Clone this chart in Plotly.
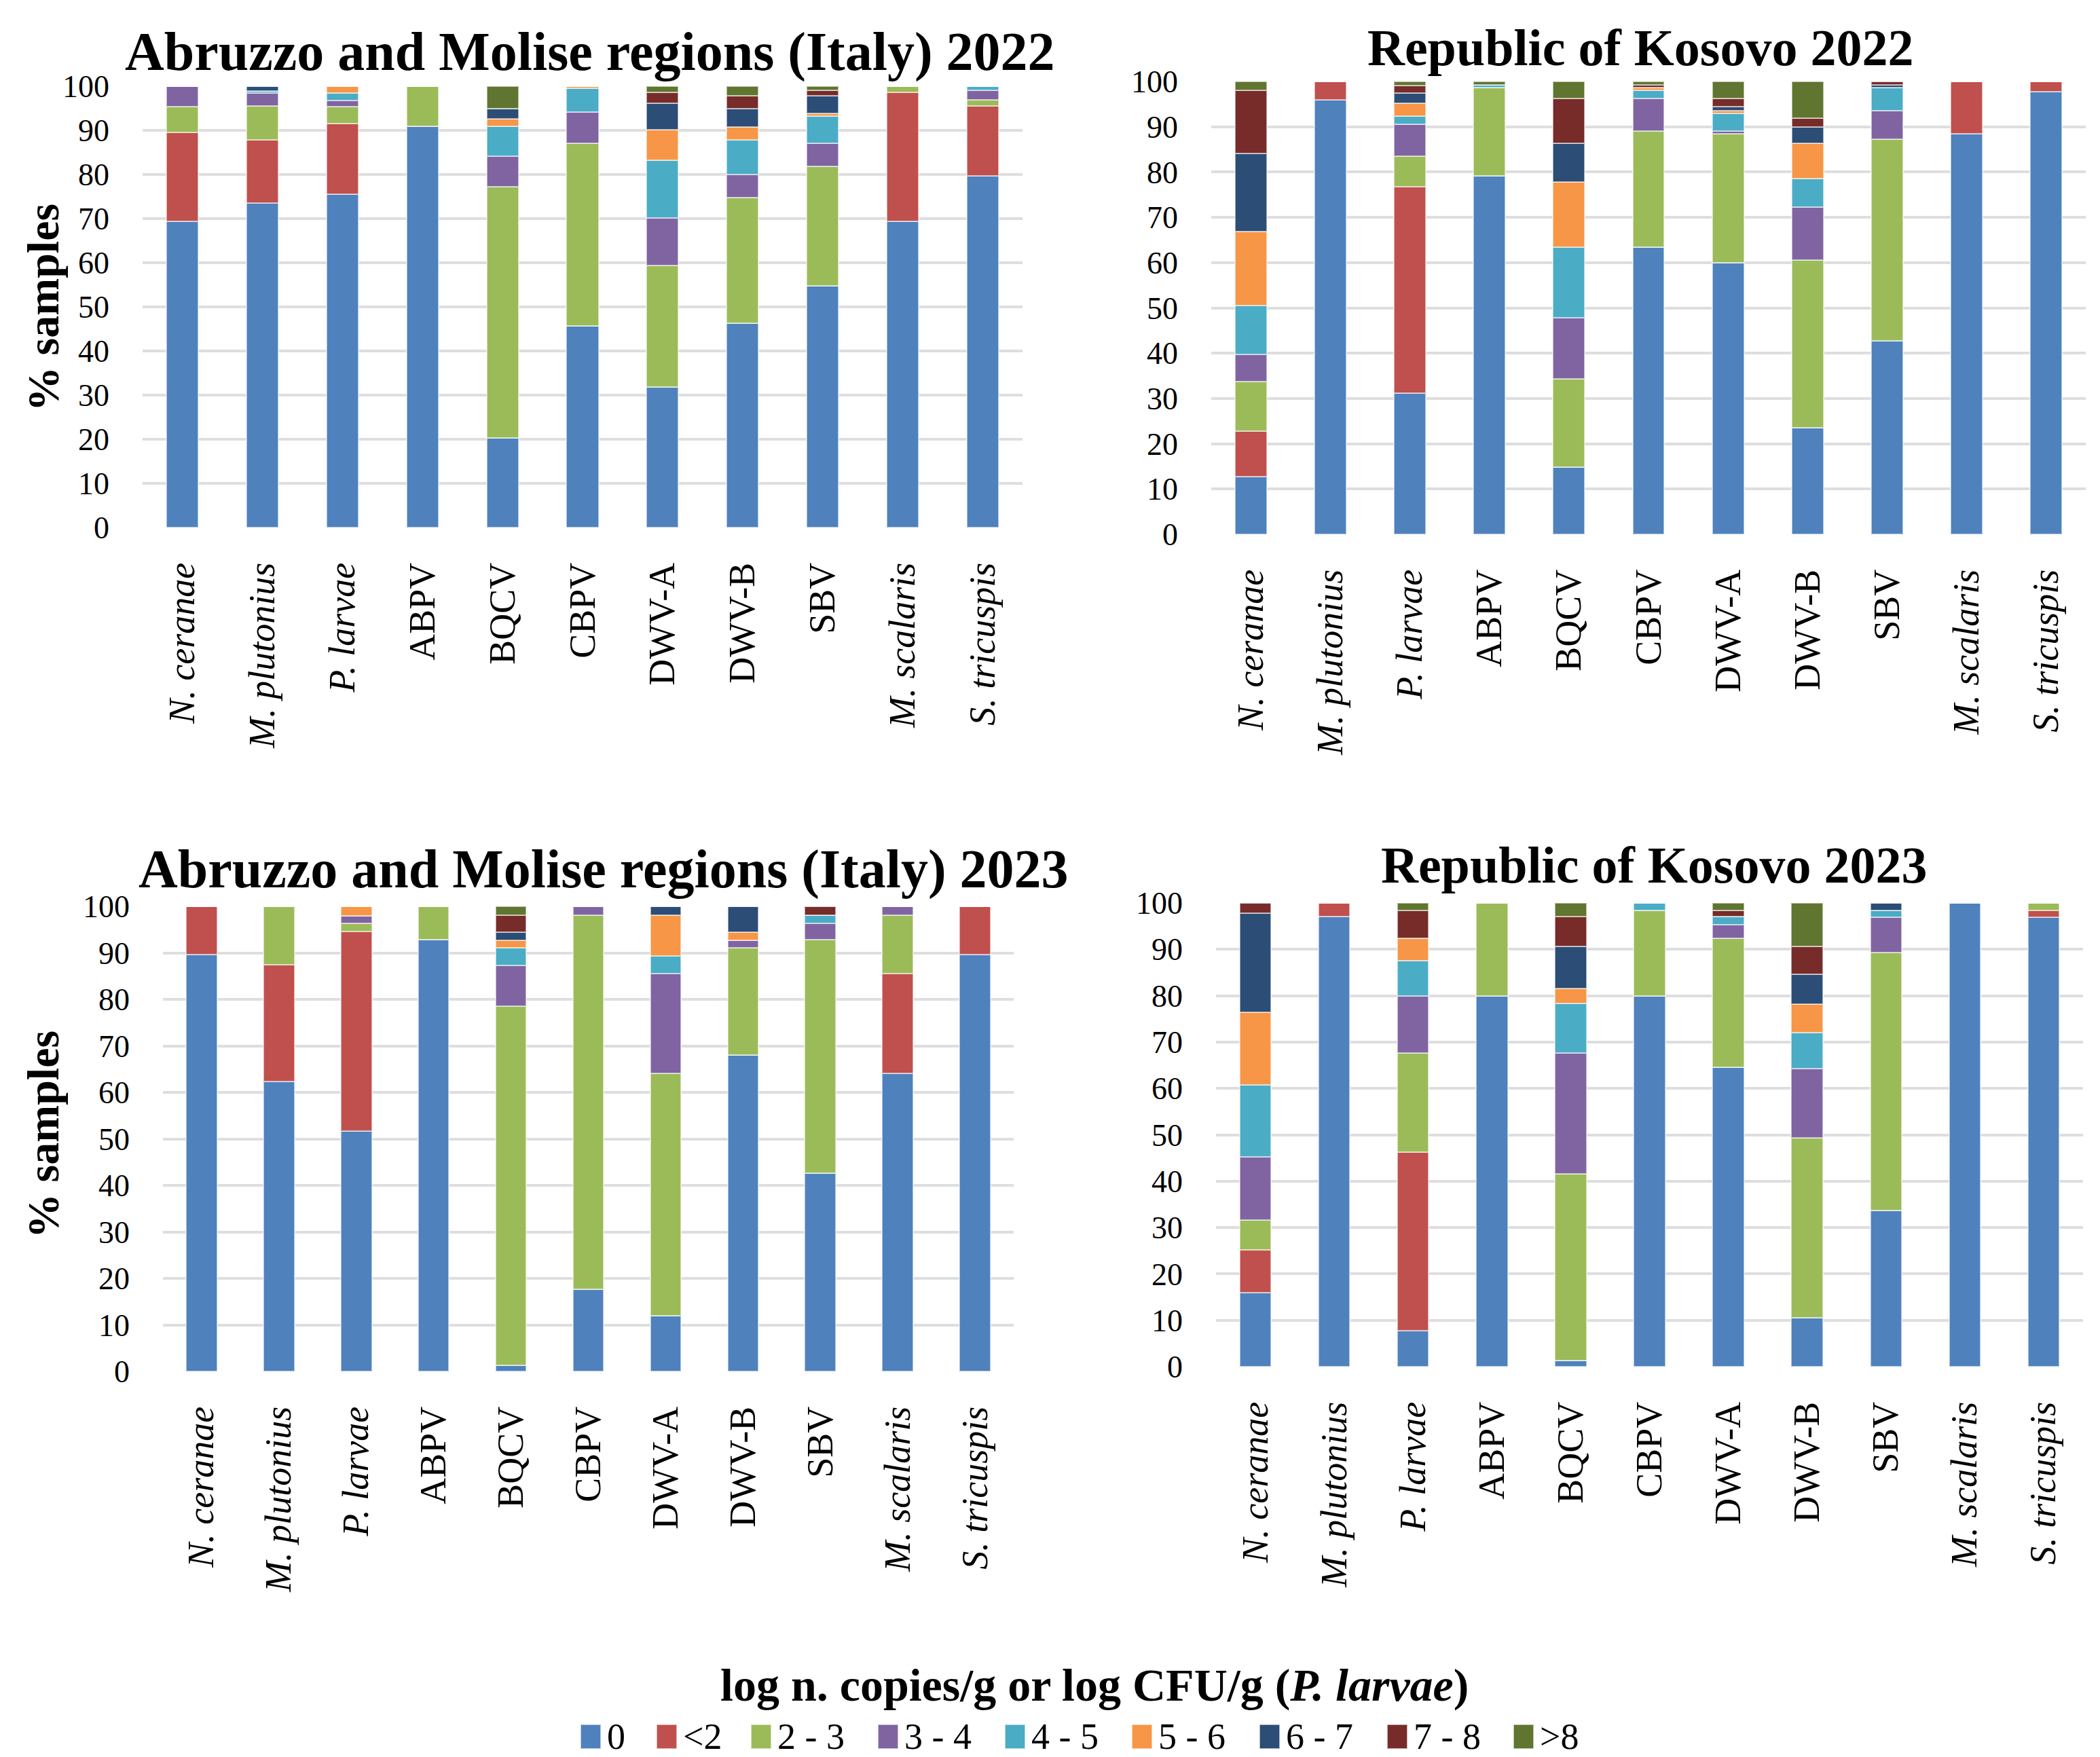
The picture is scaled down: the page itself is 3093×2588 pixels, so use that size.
import plotly.graph_objects as go

categories = ["<i>N. ceranae</i>", "<i>M. plutonius</i>", "<i>P. larvae</i>", "ABPV", "BQCV",
              "CBPV", "DWV-A", "DWV-B", "SBV", "<i>M. scalaris</i>", "<i>S. tricuspis</i>"]
levels = ["0", "&lt;2", "2 - 3", "3 - 4", "4 - 5", "5 - 6", "6 - 7", "7 - 8", "&gt;8"]
colors = ["#4F81BD", "#C0504D", "#9BBB59", "#8064A2", "#4BACC6",
          "#F79646", "#2C4D75", "#772C2A", "#5F7530"]

# one row per category, columns follow `levels`
italy_2022 = [
    [69.4, 20.1, 5.9, 4.6, 0, 0, 0, 0, 0],
    [73.5, 14.4, 7.7, 2.8, 0.6, 0, 1.0, 0, 0],
    [75.5, 16.0, 3.9, 1.4, 1.6, 1.6, 0, 0, 0],
    [90.9, 0, 9.1, 0, 0, 0, 0, 0, 0],
    [20.3, 0, 57.0, 6.9, 6.8, 1.6, 2.3, 0, 5.1],
    [45.7, 0, 41.4, 7.1, 5.4, 0.4, 0, 0, 0],
    [31.9, 0, 27.5, 10.8, 13.0, 6.9, 6.1, 2.4, 1.4],
    [46.3, 0, 28.4, 5.3, 7.9, 2.9, 4.1, 2.9, 2.2],
    [54.7, 0, 27.1, 5.3, 6.1, 0.6, 4.0, 1.3, 0.9],
    [69.4, 29.2, 1.4, 0, 0, 0, 0, 0, 0],
    [79.7, 15.9, 1.4, 2.1, 0.9, 0, 0, 0, 0],
]
kosovo_2022 = [
    [12.8, 10.0, 10.9, 6.1, 10.8, 16.3, 17.2, 14.0, 1.9],
    [95.9, 4.1, 0, 0, 0, 0, 0, 0, 0],
    [31.2, 45.6, 6.7, 7.0, 1.8, 2.9, 2.3, 1.6, 0.9],
    [79.1, 0, 19.5, 0, 0.6, 0, 0, 0, 0.8],
    [14.9, 0, 19.4, 13.6, 15.5, 14.4, 8.6, 9.8, 3.8],
    [63.4, 0, 25.7, 7.2, 1.8, 0.5, 0, 0.6, 0.8],
    [60.0, 0, 28.5, 0.6, 3.8, 0.7, 0.9, 1.7, 3.8],
    [23.5, 0, 37.0, 11.7, 6.3, 7.9, 3.5, 2.0, 8.1],
    [42.7, 0, 44.5, 6.3, 5.1, 0, 0.6, 0.8, 0],
    [88.5, 11.5, 0, 0, 0, 0, 0, 0, 0],
    [97.8, 2.2, 0, 0, 0, 0, 0, 0, 0],
]
italy_2023 = [
    [89.6, 10.4, 0, 0, 0, 0, 0, 0, 0],
    [62.4, 25.0, 12.6, 0, 0, 0, 0, 0, 0],
    [51.7, 42.9, 1.7, 1.6, 0, 2.1, 0, 0, 0],
    [92.9, 0, 7.1, 0, 0, 0, 0, 0, 0],
    [1.3, 0, 77.3, 8.7, 3.8, 1.6, 1.7, 3.7, 1.9],
    [17.6, 0, 80.5, 1.9, 0, 0, 0, 0, 0],
    [12.0, 0, 52.1, 21.4, 3.9, 8.7, 1.9, 0, 0],
    [68.0, 0, 23.1, 1.6, 0, 1.7, 5.6, 0, 0],
    [42.6, 0, 50.3, 3.4, 1.8, 0, 0, 1.9, 0],
    [64.1, 21.4, 12.6, 1.9, 0, 0, 0, 0, 0],
    [89.6, 10.4, 0, 0, 0, 0, 0, 0, 0],
]
kosovo_2023 = [
    [15.9, 9.3, 6.4, 13.6, 15.6, 15.7, 21.3, 2.2, 0],
    [97.0, 3.0, 0, 0, 0, 0, 0, 0, 0],
    [7.8, 38.4, 21.4, 12.4, 7.6, 4.8, 0, 6.0, 1.6],
    [80.0, 0, 20.0, 0, 0, 0, 0, 0, 0],
    [1.3, 0, 40.3, 26.0, 10.8, 3.1, 9.2, 6.3, 3.0],
    [80.0, 0, 18.4, 0, 1.6, 0, 0, 0, 0],
    [64.6, 0, 27.8, 2.9, 1.7, 0, 0, 1.4, 1.6],
    [10.6, 0, 38.7, 15.0, 7.7, 6.2, 6.4, 6.1, 9.3],
    [33.7, 0, 55.6, 7.6, 1.5, 0, 1.6, 0, 0],
    [100.0, 0, 0, 0, 0, 0, 0, 0, 0],
    [96.9, 1.5, 1.6, 0, 0, 0, 0, 0, 0],
]

titles = ["Abruzzo and Molise regions (Italy) 2022", "Republic of Kosovo 2022",
          "Abruzzo and Molise regions (Italy) 2023", "Republic of Kosovo 2023"]
panels = [italy_2022, kosovo_2022, italy_2023, kosovo_2023]

W, H = 3093, 2588
FONT = "Liberation Serif"

# plot areas in pixels: (left, right, top, bottom)
boxes = [(202, 1498, 119, 769), (1776, 3064, 112, 779),
         (232, 1485, 1327, 2012), (1783, 3060, 1322, 2005)]
title_pos = [(861, 68), (2408, 62), (881, 1272), (2428, 1266)]
# legend entry x positions (symbol centre, pixels)
legend_x = [862, 974, 1113, 1300, 1487, 1674, 1862, 2050, 2236]
legend_y = 2550


def px(x, y):
    return x / W, 1 - y / H


fig = go.Figure()

for p, rows in enumerate(panels):
    ax = "" if p == 0 else str(p + 1)
    cols = list(zip(*rows))
    for k, lvl in enumerate(levels):
        fig.add_trace(go.Bar(
            x=categories, y=list(cols[k]), name=lvl,
            marker=dict(color=colors[k], line=dict(color="rgba(255,255,255,0.55)", width=2)),
            showlegend=False, xaxis="x" + ax, yaxis="y" + ax,
        ))
    l, r, t, b = boxes[p]
    fig.update_layout(**{
        "xaxis" + ax: dict(
            domain=[l / W, r / W], anchor="y" + ax, tickangle=-90, automargin=False,
            tickfont=dict(family=FONT, size=54, color="black"),
            showgrid=False, showline=False, ticks="", ticklabelstandoff=40,
        ),
        "yaxis" + ax: dict(
            domain=[1 - b / H, 1 - t / H], anchor="x" + ax, range=[0, 100], dtick=10,
            automargin=False,
            tickfont=dict(family=FONT, size=46, color="black"),
            showgrid=True, gridcolor="#dedede", gridwidth=4, zeroline=False,
            showline=False, ticks="", ticklabelstandoff=48,
        ),
    })
    tx, ty = px(*title_pos[p])
    fig.add_annotation(x=tx, y=ty, xref="paper", yref="paper",
                       text="<b>" + titles[p] + "</b>", showarrow=False,
                       font=dict(family=FONT, size=80 if p in (0, 2) else 76, color="black"),
                       xanchor="center", yanchor="middle")

for yc in (445, 1663):
    fig.add_annotation(x=55 / W, y=1 - yc / H, xref="paper", yref="paper",
                       text="<b>% samples</b>", showarrow=False, textangle=-90,
                       font=dict(family=FONT, size=66, color="black"),
                       xanchor="center", yanchor="middle")

lx, ly = px(1604, 2474)
fig.add_annotation(x=lx, y=ly, xref="paper", yref="paper",
                   text="<b>log n. copies/g or log CFU/g (<i>P. larvae</i>)</b>",
                   showarrow=False, font=dict(family=FONT, size=68, color="black"),
                   xanchor="center", yanchor="middle")

# legend: colour keys and labels
for k, lvl in enumerate(levels):
    cx = legend_x[k]
    fig.add_shape(type="rect", xref="paper", yref="paper",
                  x0=(cx - 15) / W, x1=(cx + 15) / W,
                  y0=1 - (legend_y + 18) / H, y1=1 - (legend_y - 18) / H,
                  fillcolor=colors[k], line=dict(color="rgba(255,255,255,0.6)", width=2))
    fig.add_annotation(x=(cx + 22) / W, y=1 - legend_y / H, xref="paper", yref="paper",
                       text=lvl, showarrow=False, xanchor="left", yanchor="middle",
                       font=dict(family=FONT, size=54, color="black"))

fig.update_layout(
    width=W, height=H,
    barmode="stack", bargap=0.6,
    plot_bgcolor="white", paper_bgcolor="white",
    margin=dict(l=0, r=0, t=0, b=0, autoexpand=False),
    font=dict(family=FONT, color="black"),
    showlegend=False,
)

fig.write_html("out.html")
